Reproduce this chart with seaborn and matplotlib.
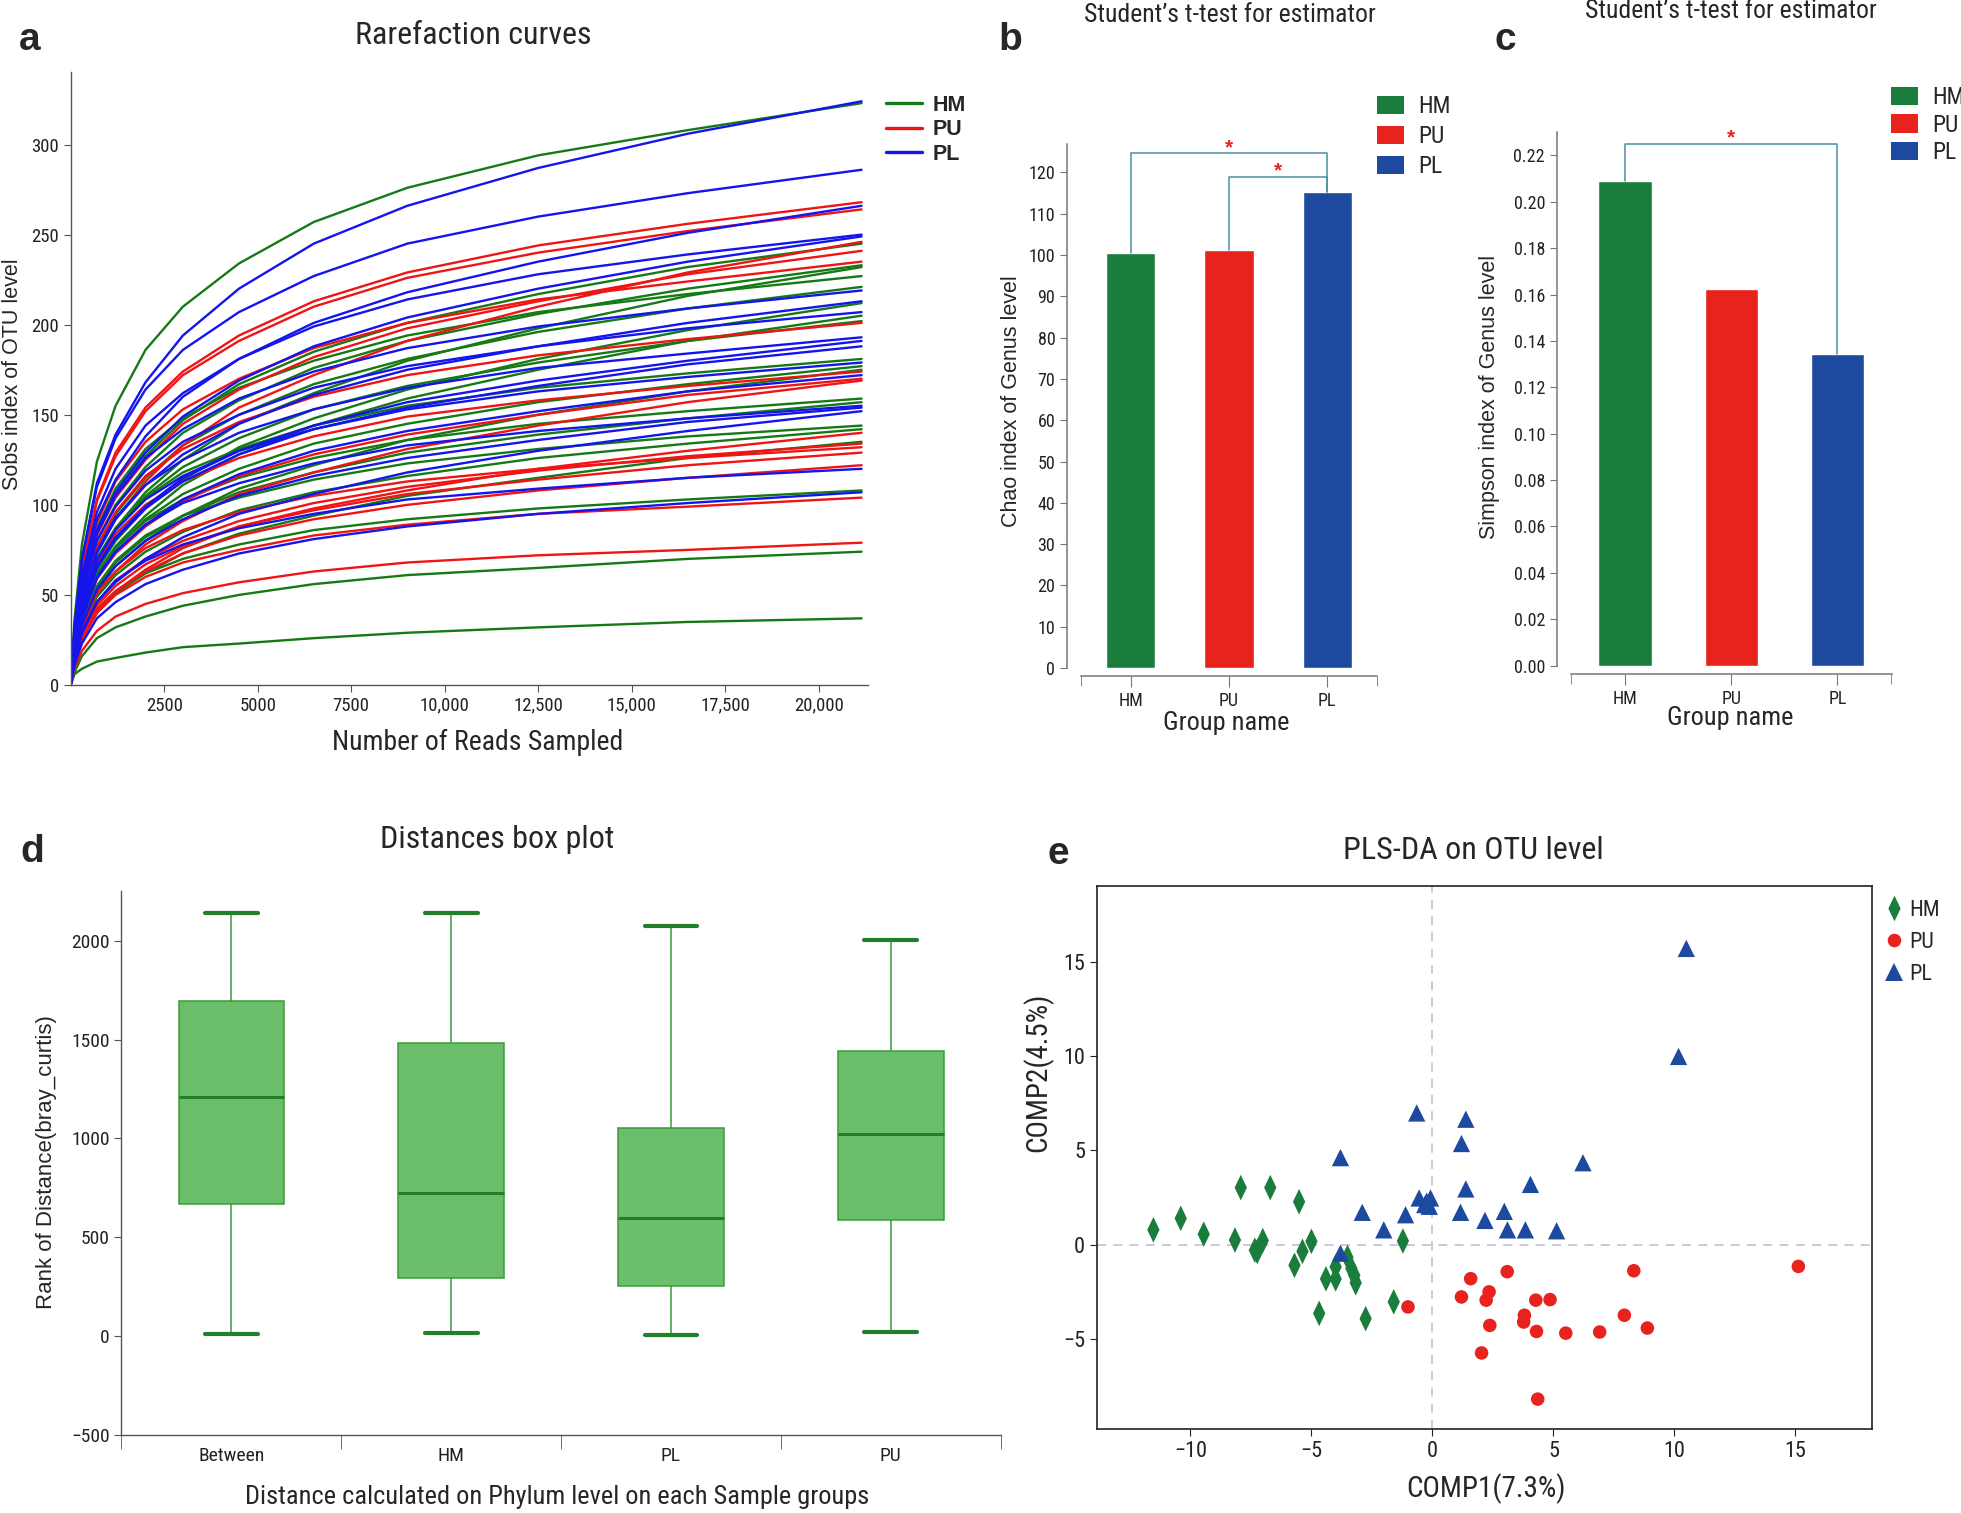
## Five-panel microbiome figure: rarefaction, t-test bars, distance boxes, PLS-DA
import numpy as np
import pandas as pd
import matplotlib
matplotlib.use('Agg')
import matplotlib.pyplot as plt
import seaborn as sns
from matplotlib import font_manager
from matplotlib.path import Path
from matplotlib.lines import Line2D
from matplotlib.patches import Patch

## ---------------- data ----------------
## (a) rarefaction curves, Sobs read at these numbers of reads
reads = [0, 100, 300, 700, 1200, 2000, 3000, 4500, 6500, 9000, 12500, 16500, 21150]
hm_sobs = [
    [0, 36, 78, 124, 155, 186, 210, 234, 257, 276, 294, 308, 323],
    [0, 25, 53, 85, 105, 127, 147, 167, 185, 201, 217, 232, 245],
    [0, 23, 50, 80, 100, 121, 140, 158, 176, 191, 206, 220, 233],
    [0, 21, 44, 70, 87, 107, 125, 145, 162, 180, 198, 216, 232],
    [0, 25, 54, 87, 109, 131, 148, 165, 180, 194, 207, 217, 227],
    [0, 22, 48, 76, 95, 115, 133, 150, 167, 181, 196, 209, 221],
    [0, 19, 40, 64, 80, 98, 114, 132, 148, 164, 181, 197, 212],
    [0, 18, 39, 62, 77, 94, 111, 128, 144, 159, 175, 191, 205],
    [0, 20, 43, 70, 87, 105, 121, 137, 153, 166, 179, 191, 202],
    [0, 20, 43, 70, 87, 104, 118, 131, 144, 155, 165, 173, 181],
    [0, 18, 38, 61, 76, 92, 106, 120, 134, 145, 157, 167, 177],
    [0, 16, 33, 52, 66, 80, 94, 109, 122, 136, 150, 163, 175],
    [0, 17, 38, 61, 76, 91, 103, 115, 126, 136, 145, 152, 159],
    [0, 16, 34, 54, 68, 82, 94, 107, 118, 129, 139, 148, 157],
    [0, 16, 35, 55, 69, 83, 94, 104, 114, 123, 131, 138, 144],
    [0, 14, 31, 49, 61, 74, 85, 97, 107, 116, 126, 134, 142],
    [0, 12, 26, 40, 51, 62, 73, 84, 94, 105, 115, 126, 135],
    [0, 12, 26, 42, 52, 62, 70, 78, 86, 92, 98, 103, 108],
    [0, 7, 16, 26, 32, 38, 44, 50, 56, 61, 65, 70, 74],
    [0, 6, 9, 13, 15, 18, 21, 23, 26, 29, 32, 35, 37],
]
pu_sobs = [
    [0, 29, 64, 103, 129, 154, 174, 194, 213, 229, 244, 256, 268],
    [0, 29, 63, 102, 127, 152, 172, 191, 210, 226, 240, 252, 264],
    [0, 22, 47, 74, 92, 113, 133, 154, 172, 191, 210, 229, 246],
    [0, 24, 52, 83, 104, 125, 145, 164, 182, 198, 213, 228, 241],
    [0, 26, 56, 90, 113, 135, 153, 170, 187, 201, 214, 224, 235],
    [0, 22, 48, 77, 96, 116, 131, 146, 160, 172, 183, 192, 201],
    [0, 19, 42, 67, 84, 100, 113, 126, 138, 149, 158, 166, 174],
    [0, 17, 37, 59, 73, 88, 102, 116, 128, 139, 150, 161, 170],
    [0, 15, 32, 51, 63, 78, 91, 106, 118, 131, 144, 157, 169],
    [0, 13, 27, 42, 52, 64, 76, 88, 98, 108, 120, 130, 140],
    [0, 13, 29, 46, 58, 70, 80, 91, 101, 110, 119, 127, 134],
    [0, 15, 32, 51, 63, 76, 86, 96, 105, 113, 120, 126, 132],
    [0, 13, 28, 44, 55, 67, 77, 88, 97, 106, 114, 122, 129],
    [0, 12, 26, 42, 52, 63, 73, 83, 92, 100, 108, 115, 122],
    [0, 11, 25, 40, 50, 60, 68, 75, 83, 89, 95, 99, 104],
    [0, 9, 19, 30, 38, 45, 51, 57, 63, 68, 72, 75, 79],
]
pl_sobs = [
    [0, 32, 70, 112, 139, 168, 194, 220, 245, 266, 287, 306, 324],
    [0, 31, 69, 110, 137, 164, 186, 207, 227, 245, 260, 273, 286],
    [0, 27, 57, 92, 114, 138, 160, 181, 201, 218, 235, 251, 266],
    [0, 28, 60, 96, 120, 144, 162, 181, 199, 214, 228, 239, 250],
    [0, 25, 54, 86, 107, 129, 149, 169, 188, 204, 220, 235, 249],
    [0, 24, 53, 84, 105, 126, 142, 159, 174, 187, 199, 209, 219],
    [0, 21, 46, 73, 92, 111, 128, 145, 161, 175, 188, 201, 213],
    [0, 23, 50, 80, 99, 119, 135, 150, 165, 177, 188, 198, 207],
    [0, 21, 46, 74, 93, 111, 125, 140, 153, 165, 176, 184, 193],
    [0, 19, 41, 66, 82, 99, 115, 130, 144, 157, 169, 180, 191],
    [0, 19, 40, 65, 81, 98, 113, 128, 142, 154, 166, 178, 188],
    [0, 20, 43, 69, 86, 103, 116, 130, 142, 153, 163, 171, 179],
    [0, 17, 37, 59, 74, 89, 103, 117, 130, 141, 152, 163, 172],
    [0, 17, 37, 60, 74, 89, 101, 112, 123, 133, 141, 148, 155],
    [0, 15, 33, 53, 66, 80, 92, 105, 116, 126, 136, 146, 154],
    [0, 14, 29, 46, 57, 70, 82, 95, 106, 118, 130, 141, 152],
    [0, 13, 29, 46, 58, 69, 78, 87, 95, 103, 109, 115, 120],
    [0, 11, 23, 37, 46, 56, 64, 73, 81, 88, 95, 101, 107],
]
rare_ticks = [2500, 5000, 7500, 10000, 12500, 15000, 17500, 20000]
rare_ticklabels = ['2500', '5000', '7500', '10,000', '12,500', '15,000', '17,500', '20,000']

## (b) Chao index, (c) Simpson index
groups = ['HM', 'PU', 'PL']
chao = [100.6, 101.2, 115.2]
simpson = [0.2091, 0.1623, 0.1345]

## (d) distance ranks: whisker low, Q1, median, Q3, whisker high
box_groups = ['Between', 'HM', 'PL', 'PU']
box_between = [11, 670, 1210, 1698, 2145]
box_hm = [12, 295, 723, 1486, 2145]
box_pl = [2, 251, 599, 1055, 2076]
box_pu = [18, 588, 1021, 1445, 2007]

## (e) PLS-DA scores
hm_x = [-11.53, -10.40, -9.45, -8.16, -7.92, -7.34, -7.24, -7.01, -6.70, -5.70, -5.51, -5.37,
        -5.00, -4.68, -4.40, -4.00, -4.00, -3.51, -3.35, -3.23, -3.17, -2.76, -1.60, -1.22]
hm_y = [0.78, 1.39, 0.55, 0.24, 3.02, -0.30, -0.37, 0.21, 3.02, -1.10, 2.27, -0.36,
        0.17, -3.65, -1.82, -1.18, -1.82, -0.68, -1.27, -1.63, -2.03, -3.93, -3.04, 0.19]
pu_x = [-1.01, 1.20, 1.58, 2.22, 2.34, 2.37, 2.03, 3.09, 3.80, 3.77, 4.27, 4.30, 4.35, 4.86,
        5.51, 6.91, 7.93, 8.32, 8.88, 15.12]
pu_y = [-3.31, -2.78, -1.81, -2.95, -2.51, -4.29, -5.75, -1.44, -3.75, -4.11, -2.95, -4.61, -8.20, -2.92,
        -4.70, -4.64, -3.75, -1.39, -4.43, -1.16]
pl_x = [-0.65, 1.38, 1.20, -3.80, 6.22, 4.05, 1.38, -0.55, -0.24, -0.08, -0.32, -0.13,
        -2.90, -1.11, 1.16, 2.97, 2.17, -2.01, 3.10, 3.84, 5.13, -3.80, 10.49, 10.17]
pl_y = [6.98, 6.65, 5.36, 4.61, 4.34, 3.19, 2.95, 2.47, 2.30, 2.47, 2.12, 2.03,
        1.71, 1.58, 1.71, 1.76, 1.28, 0.78, 0.78, 0.78, 0.73, -0.46, 15.71, 9.98]

## ---------------- style ----------------
sns.set_style('ticks')
names = {f.name for f in font_manager.fontManager.ttflist}
narrow = next((n for n in ['Liberation Sans Narrow', 'Roboto Condensed', 'DejaVu Sans Condensed',
                           'Open Sans Condensed'] if n in names), 'Liberation Sans')
plt.rcParams['font.family'] = ['Liberation Sans', 'DejaVu Sans']
plt.rcParams['axes.linewidth'] = 1.0

line_cols = {'HM': '#157a15', 'PU': '#f01414', 'PL': '#1414ee'}
bar_cols = {'HM': '#1b7d3c', 'PU': '#e8221d', 'PL': '#1d4a9f'}

W, H = 1961, 1513
fig = plt.figure(figsize=(W / 100, H / 100), dpi=100)


def box(l, t, r, b):
    return [l / W, 1 - b / H, (r - l) / W, (b - t) / H]


def put(x, y, s, **kw):
    kw.setdefault('ha', 'center')
    kw.setdefault('va', 'center')
    fig.text(x / W, 1 - y / H, s, **kw)


## ---------------- (a) rarefaction ----------------
ax_a = fig.add_axes(box(70.7, 72.5, 868.3, 685))
rows = []
for grp, curves in [('HM', hm_sobs), ('PU', pu_sobs), ('PL', pl_sobs)]:
    for i, vals in enumerate(curves):
        for r, v in zip(reads, vals):
            rows.append((grp, grp + str(i), r, v))
rare = pd.DataFrame(rows, columns=['group', 'sample', 'reads', 'sobs'])
sns.lineplot(data=rare, x='reads', y='sobs', hue='group', units='sample', estimator=None,
             palette=line_cols, linewidth=1.7, legend=False, sort=False, ax=ax_a)
ax_a.set_xlim(0, 21330)
ax_a.set_ylim(0, 340)
ax_a.set_xticks(rare_ticks)
ax_a.set_xticklabels(rare_ticklabels)
ax_a.set_yticks(range(0, 301, 50))
ax_a.set_xlabel('')
ax_a.set_ylabel('')
sns.despine(ax=ax_a)
for s in ['left', 'bottom']:
    ax_a.spines[s].set_color('#555555')
ax_a.tick_params(direction='out', length=5, color='#555555', labelsize=13.5,
                 labelfontfamily=narrow, labelcolor='#222222')
handles = [Line2D([], [], color=line_cols[g], lw=2.4) for g in groups]
fig.legend(handles, groups, loc='upper left', bbox_to_anchor=(886 / W, 1 - 95 / H),
           frameon=False, prop=dict(family='Liberation Sans', weight='bold', size=15.5),
           handlelength=1.65, handletextpad=0.5, labelspacing=0.16, borderpad=0, borderaxespad=0)
put(473, 36, 'Rarefaction curves', family=narrow, size=23)
put(478, 742, 'Number of Reads Sampled', family=narrow, size=20)
put(13, 374, 'Sobs index of OTU level', rotation=90, size=15.5)
put(30, 40, 'a', size=28, weight='bold')


## ---------------- (b), (c) t-test bars ----------------
def bar_panel(ax, vals, ymax, yticks, fmt):
    sns.barplot(x=groups, y=vals, hue=groups, palette=bar_cols, width=0.5, saturation=1,
                errorbar=None, legend=False, ax=ax)
    ax.set_xlim(-0.51, 2.51)
    ax.set_ylim(0, ymax)
    ax.set_yticks(yticks)
    ax.set_yticklabels([fmt.format(t) for t in yticks])
    sns.despine(ax=ax)
    ax.spines['left'].set_position(('outward', 10))
    ax.spines['bottom'].set_position(('outward', 6))
    for s in ['left', 'bottom']:
        ax.spines[s].set_color('#777777')
        ax.spines[s].set_linewidth(1.1)
    ax.set_xticks([-0.5099, 2.5099], minor=True)
    ax.tick_params(which='both', direction='out', color='#777777', labelsize=13,
                   labelfontfamily=narrow, labelcolor='#222222')
    ax.tick_params(axis='x', which='major', length=8)
    ax.tick_params(axis='x', which='minor', length=7)
    ax.tick_params(axis='y', length=5)


ax_b = fig.add_axes(box(1081, 143.5, 1377, 668))
bar_panel(ax_b, chao, 127, list(range(0, 121, 10)), '{:d}')
brk = '#4b8ea3'
ax_b.plot([0, 0, 2, 2], [chao[0], 124.7, 124.7, chao[2]], color=brk, lw=1.1, clip_on=False)
ax_b.plot([1, 1, 2, 2], [chao[1], 118.95, 118.95, chao[2]], color=brk, lw=1.1, clip_on=False)
ax_b.text(1, 126.0, '*', color='#e8221d', ha='center', va='center', size=15, weight='bold', clip_on=False)
ax_b.text(1.5, 120.3, '*', color='#e8221d', ha='center', va='center', size=15, weight='bold', clip_on=False)
leg_b = [Patch(facecolor=bar_cols[g], edgecolor='none') for g in groups]
fig.legend(leg_b, groups, loc='upper left', bbox_to_anchor=(1377 / W, 1 - 95 / H), frameon=False,
           prop=dict(family=narrow, size=17), handlelength=1.15, handleheight=0.8,
           handletextpad=0.6, labelspacing=0.3, borderpad=0, borderaxespad=0)
put(1230, 15, "Student\u2019s t-test for estimator", family=narrow, size=18.5)
put(1226, 723, 'Group name', family=narrow, size=19)
put(1012, 401, 'Chao index of Genus level', rotation=90, size=15.5)
put(1010, 40, 'b', size=28, weight='bold')

ax_c = fig.add_axes(box(1570.8, 131.8, 1891.5, 665.5))
bar_panel(ax_c, simpson, 0.2302, list(np.arange(0, 0.221, 0.02)), '{:.2f}')
ax_c.plot([0, 0, 2, 2], [simpson[0], 0.225, 0.225, simpson[2]], color=brk, lw=1.1, clip_on=False)
ax_c.text(1, 0.2275, '*', color='#e8221d', ha='center', va='center', size=15, weight='bold', clip_on=False)
fig.legend(leg_b, groups, loc='upper left', bbox_to_anchor=(1891 / W, 1 - 86 / H), frameon=False,
           prop=dict(family=narrow, size=17), handlelength=1.15, handleheight=0.8,
           handletextpad=0.6, labelspacing=0.2, borderpad=0, borderaxespad=0)
put(1731, 11, "Student\u2019s t-test for estimator", family=narrow, size=18.5)
put(1730, 718, 'Group name', family=narrow, size=19)
put(1490, 397, 'Simpson index of Genus level', rotation=90, size=15.5)
put(1505, 40, 'c', size=28, weight='bold')

## ---------------- (d) distance box plot ----------------
ax_d = fig.add_axes(box(121.4, 891.2, 1000.7, 1434.5))
dist = pd.DataFrame({'group': np.repeat(box_groups, 5),
                     'rank': np.concatenate([box_between, box_hm, box_pl, box_pu])})
sns.boxplot(data=dist, x='group', y='rank', color='#6bbf6b', saturation=1, width=0.48,
            whis=(0, 100), fliersize=0, linecolor='#3a9a3a', linewidth=1.1,
            medianprops=dict(color='#23802a', linewidth=2.2),
            capprops=dict(color='#23802a', linewidth=3),
            whiskerprops=dict(color='#3a9a3a', linewidth=1.1), ax=ax_d)
ax_d.set_xlim(-0.5, 3.5)
ax_d.set_ylim(-500, 2253)
ax_d.set_yticks(range(-500, 2001, 500))
ax_d.set_xlabel('')
ax_d.set_ylabel('')
sns.despine(ax=ax_d)
for s in ['left', 'bottom']:
    ax_d.spines[s].set_color('#555555')
ax_d.set_xticks([-0.5, 0.5, 1.5, 2.5, 3.5], minor=True)
ax_d.tick_params(which='both', direction='out', color='#555555', labelsize=14,
                 labelfontfamily=narrow, labelcolor='#222222')
ax_d.tick_params(axis='x', which='major', length=0, pad=9)
ax_d.tick_params(axis='x', which='minor', length=10)
ax_d.tick_params(axis='y', length=5)
put(497, 840, 'Distances box plot', family=narrow, size=23)
put(557, 1497, 'Distance calculated on Phylum level on each Sample groups', family=narrow, size=19)
put(47, 1162, 'Rank of Distance(bray_curtis)', rotation=90, size=16)
put(32, 852, 'd', size=28, weight='bold')

## ---------------- (e) PLS-DA ----------------
ax_e = fig.add_axes(box(1097, 886.4, 1871.7, 1428.9))
pls = pd.DataFrame({'comp1': hm_x + pu_x + pl_x,
                    'comp2': hm_y + pu_y + pl_y,
                    'group': ['HM'] * len(hm_x) + ['PU'] * len(pu_x) + ['PL'] * len(pl_x)})
diamond = Path([(0, 1), (0.48, 0), (0, -1), (-0.48, 0), (0, 1)], closed=True)
marks = {'HM': diamond, 'PU': 'o', 'PL': '^'}
msize = {'HM': 340, 'PU': 95, 'PL': 155}
ax_e.axhline(0, color='#c6c6d6', lw=1.3, ls=(0, (5, 4)), zorder=0)
ax_e.axvline(0, color='#c6c6d6', lw=1.3, ls=(0, (5, 4)), zorder=0)
sns.scatterplot(data=pls, x='comp1', y='comp2', hue='group', style='group', size='group',
                hue_order=groups, palette=bar_cols, markers=marks, sizes=msize,
                linewidth=0, legend=False, ax=ax_e, zorder=3)
ax_e.set_xlim(-13.86, 18.15)
ax_e.set_ylim(-9.78, 19.0)
ax_e.set_xticks([-10, -5, 0, 5, 10, 15])
ax_e.set_yticks([-5, 0, 5, 10, 15])
ax_e.set_xlabel('')
ax_e.set_ylabel('')
for s in ax_e.spines.values():
    s.set_color('#222222')
    s.set_linewidth(1.2)
ax_e.tick_params(direction='out', length=5, color='#222222', labelsize=16,
                 labelfontfamily=narrow, labelcolor='#222222')
leg_e = [Line2D([], [], ls='', marker=marks[g], color=bar_cols[g], markeredgewidth=0,
                markersize=np.sqrt(msize[g])) for g in groups]
fig.legend(leg_e, groups, loc='upper left', bbox_to_anchor=(1884 / W, 1 - 900 / H), frameon=False,
           prop=dict(family=narrow, size=16), handlelength=0.9, handletextpad=0.25,
           labelspacing=0.5, borderpad=0, borderaxespad=0)
put(1473, 850, 'PLS-DA on OTU level', family=narrow, size=23)
put(1486, 1489, 'COMP1(7.3%)', family=narrow, size=21)
put(1038, 1072, 'COMP2(4.5%)', rotation=90, family=narrow, size=21)
put(1058, 854, 'e', size=28, weight='bold')

fig.savefig('out.png', dpi=100, facecolor='white')
